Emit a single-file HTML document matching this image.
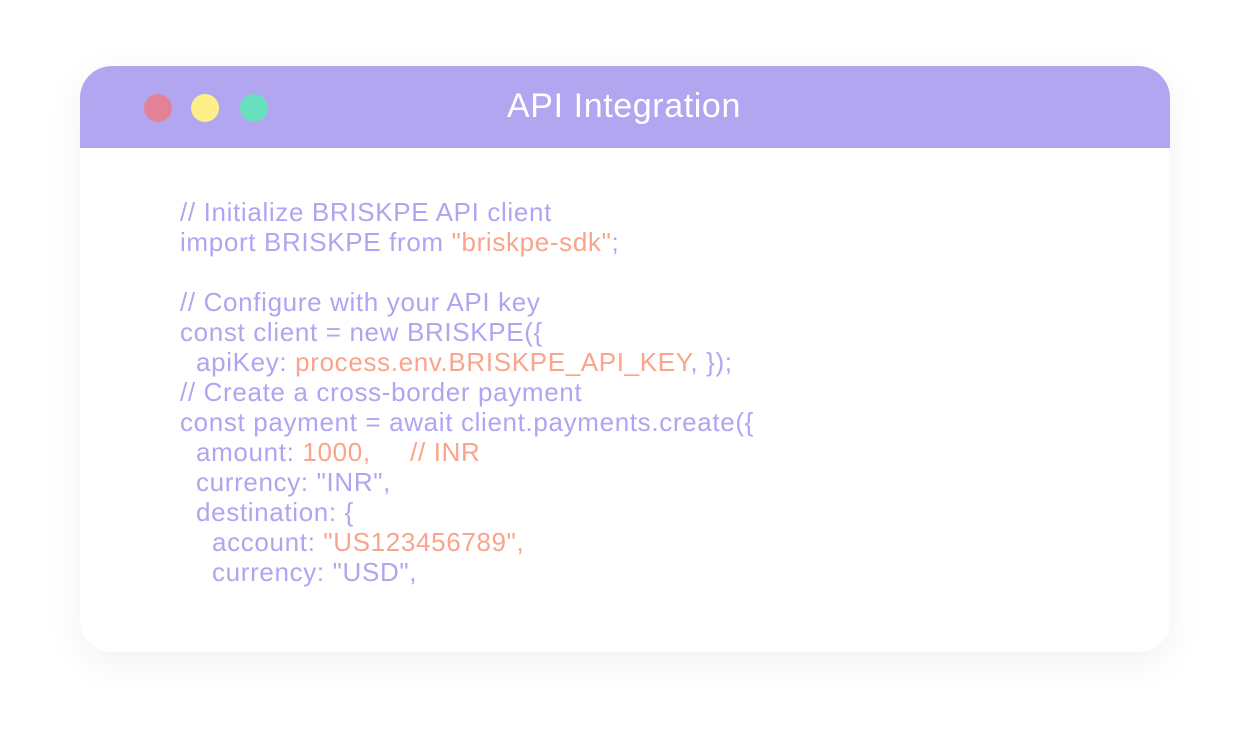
<!DOCTYPE html>
<html><head><style>
body{margin:0;width:1250px;height:740px;background:#fff;position:relative;overflow:hidden;font-family:"Liberation Sans",sans-serif}
.card{position:absolute;left:80px;top:66px;width:1090px;height:586px;border-radius:32px;background:#fff;box-shadow:0 10px 40px rgba(0,0,0,0.06);overflow:hidden}
.hdr{height:82px;background:#b2a6f0;position:relative}
.dot{position:absolute;top:28px;width:28px;height:28px;border-radius:50%}
.title{position:absolute;left:0;right:0;top:21px;text-align:center;color:#fff;font-size:34px;letter-spacing:0.6px;padding-right:2px}
.code{position:absolute;left:100px;top:131px;color:#afa5f0;font-size:26px;letter-spacing:0.65px;line-height:30px;white-space:pre}
.o{color:#f9a48b}
.i1{display:inline-block;width:16px}
.i2{display:inline-block;width:32px}
</style></head><body>
<div class="card">
<div class="hdr">
<div class="dot" style="left:64px;background:#e38296"></div>
<div class="dot" style="left:111px;background:#fdf08a"></div>
<div class="dot" style="left:160px;background:#68dfbd"></div>
<div class="title">API Integration</div>
</div>
<div class="code">// Initialize BRISKPE API client
import BRISKPE from <span class="o">"briskpe-sdk"</span>;

// Configure with your API key
const client = new BRISKPE({
<span class="i1"></span>apiKey: <span class="o">process.env.BRISKPE_API_KEY</span>, });
// Create a cross-border payment
const payment = await client.payments.create({
<span class="i1"></span>amount: <span class="o">1000,</span>     <span class="o">// INR</span>
<span class="i1"></span>currency: "INR",
<span class="i1"></span>destination: {
<span class="i2"></span>account: <span class="o">"US123456789",</span>
<span class="i2"></span>currency: "USD",</div>
</div>
</body></html>
